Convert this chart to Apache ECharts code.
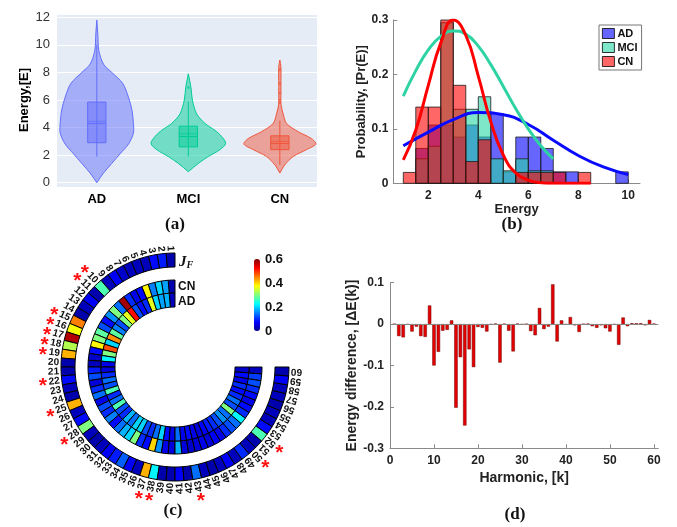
<!DOCTYPE html>
<html><head><meta charset="utf-8">
<script src="https://cdn.jsdelivr.net/npm/echarts@6/dist/echarts.min.js"></script>
<style>html,body{margin:0;padding:0;background:#fff}#c{width:677px;height:527px}</style>
</head><body><div id="c"></div>
<script>
// ---------- Panel (a): violins ----------
const violinGroups = ['AD', 'MCI', 'CN'];
const adViolinE  = [11.8, 10.8, 9.6, 8.6, 8.0, 7.2, 6.2, 5.3, 4.3, 3.6, 2.8, 2.1, 1.4, 0.7, 0.0];
const adViolinW  = [0, 0.011, 0.022, 0.073, 0.164, 0.284, 0.346, 0.383, 0.40, 0.40, 0.346, 0.255, 0.164, 0.073, 0];
const mciViolinE = [7.9, 6.9, 6.0, 5.0, 4.3, 3.8, 3.35, 2.85, 2.4, 1.9, 1.4, 0.8];
const mciViolinW = [0, 0.029, 0.044, 0.091, 0.182, 0.291, 0.364, 0.408, 0.346, 0.219, 0.109, 0];
const cnViolinE  = [8.9, 8.4, 7.4, 6.4, 5.7, 5.0, 4.3, 3.7, 3.2, 2.8, 2.4, 1.9, 1.3, 0.7];
const cnViolinW  = [0, 0.012, 0.012, 0.012, 0.012, 0.036, 0.073, 0.2, 0.346, 0.393, 0.291, 0.146, 0.055, 0];
const boxQ1 = [2.9, 2.6, 2.4];
const boxQ3 = [5.85, 4.1, 3.4];
const boxMedian = [4.3, 3.35, 2.85];
const boxMean = [4.45, 3.55, 3.0];
const whiskerLow = [1.9, 1.9, 1.3];
const whiskerHigh = [10.0, 5.9, 4.5];
const adOutliers = [];
const mciOutliers = [6.9];
const cnOutliers = [5.8, 6.0, 6.5, 7.2, 8.2];

// ---------- Panel (b): histograms + fits ----------
const histBinStart = [1.0, 1.5, 2.0, 2.5, 3.0, 3.5, 4.0, 4.5, 5.0, 5.5, 6.0, 6.5, 7.0, 7.5, 8.0, 8.5, 9.0, 9.5];
const adHist  = [0, 0.064, 0.107, 0.107, 0.085, 0.107, 0.085, 0.128, 0.021, 0.085, 0.085, 0.064, 0.021, 0.021, 0, 0, 0, 0.021];
const mciHist = [0, 0.045, 0.068, 0.295, 0.136, 0.136, 0.159, 0.045, 0.023, 0.045, 0.023, 0.023, 0, 0, 0, 0, 0, 0];
const cnHist  = [0.02, 0.14, 0.14, 0.30, 0.18, 0.04, 0.08, 0, 0, 0.02, 0.02, 0.02, 0.02, 0, 0.02, 0, 0, 0];
const adFitE  = [1, 2, 3, 4, 5, 6, 7, 8, 9, 10];
const adFitP  = [0.069, 0.094, 0.117, 0.13, 0.126, 0.108, 0.079, 0.051, 0.03, 0.016];
const mciFitE = [1, 1.5, 2, 2.5, 3, 3.5, 4, 4.5, 5, 5.5, 6, 6.5, 7];
const mciFitP = [0.16, 0.207, 0.245, 0.27, 0.28, 0.274, 0.252, 0.218, 0.178, 0.137, 0.1, 0.069, 0.045];
const cnFitE  = [1, 1.5, 2, 2.5, 3, 3.5, 4, 4.5, 5, 5.5, 6, 6.5, 7, 7.5, 8, 8.5];
const cnFitP  = [0.043, 0.098, 0.18, 0.258, 0.30, 0.272, 0.197, 0.113, 0.052, 0.019, 0.006, 0.001, 0, 0, 0, 0];
const energyTicksB = [2, 4, 6, 8, 10];

// ---------- Panel (c): circular heat map ----------
const jfEnergy = [0.02,0.09,0.08,0.03,0.03,0.03,0.04,0.07,0.03,0.27, 0.02,0.07,0.03,0.02,0.45,0.37,0.57,0.33,0.42,0.02,
                  0.02,0.08,0.03,0.02,0.42,0.03,0.08,0.3,0.03,0.02, 0.03,0.07,0.09,0.13,0.07,0.03,0.42,0.22,0.02,0.02,
                  0.07,0.02,0.14,0.03,0.02,0.03,0.07,0.03,0.1,0.03, 0.02,0.27,0.08,0.03,0.03,0.02,0.03,0.03,0.07,0.02];
const cnEnergy = [0.02,0.17,0.2,0.15,0.38,0.08,0.06,0.1,0.58,0.14, 0.3,0.16,0.08,0.12,0.28,0.3,0.38,0.08,0.04,0.03,
                  0.09,0.12,0.05,0.1,0.14,0.06,0.12,0.1,0.15,0.08, 0.14,0.18,0.2,0.3,0.1,0.08,0.4,0.16,0.06,0.05,
                  0.18,0.05,0.04,0.05,0.06,0.05,0.07,0.06,0.1,0.12, 0.14,0.22,0.1,0.08,0.06,0.08,0.1,0.12,0.11,0.03];
const adEnergy = [0.03,0.18,0.17,0.2,0.36,0.1,0.08,0.12,0.52,0.36, 0.3,0.12,0.15,0.28,0.44,0.2,0.48,0.3,0.22,0.06,
                  0.05,0.1,0.14,0.12,0.27,0.1,0.14,0.27,0.12,0.1, 0.18,0.14,0.2,0.2,0.12,0.1,0.14,0.2,0.08,0.06,
                  0.14,0.06,0.08,0.06,0.05,0.07,0.09,0.1,0.12,0.16, 0.14,0.3,0.12,0.14,0.1,0.08,0.1,0.06,0.08,0.04];
const significantHarmonics = [10, 11, 15, 16, 17, 18, 19, 22, 25, 28, 37, 38, 43, 50, 52];
const colorbarTicks = [0, 0.2, 0.4, 0.6];

// ---------- Panel (d): energy difference ----------
const deltaE = [0, -0.029, -0.032, -0.001, -0.018, -0.006, -0.029, -0.031, 0.045, -0.10,
                -0.067, -0.016, -0.014, 0.009, -0.202, -0.08, -0.245, -0.061, -0.104, -0.007,
                -0.009, -0.018, -0.001, 0.001, -0.093, 0, -0.016, -0.066, 0.001, -0.001,
                0, -0.017, -0.027, 0.039, -0.012, -0.006, 0.096, -0.042, 0.009, -0.001,
                0.017, -0.003, -0.019, 0, 0.001, -0.005, -0.009, -0.003, -0.01, -0.018,
                -0.001, -0.05, 0.016, -0.005, 0.002, 0.002, 0.002, -0.003, 0.01, 0.001];

const harmonics = deltaE.map((_, i) => i + 1);

// ---------- styles ----------
const plotlyColors = ['#636efa', '#00cc96', '#EF553B'];
const plotlyFill = ['rgba(99,110,250,0.5)', 'rgba(0,204,150,0.5)', 'rgba(239,85,59,0.5)'];
const jet = ['#00008f', '#0000ff', '#0080ff', '#00ffff', '#80ff80', '#ffff00', '#ff8000', '#ff0000', '#800000'];
const FONT = 'Liberation Sans';
const axisGray = '#8a8a8a';
const tickText = '#222';

const violinE = [adViolinE, mciViolinE, cnViolinE];
const violinW = [adViolinW, mciViolinW, cnViolinW];
const outliers = [adOutliers, mciOutliers, cnOutliers];

function violinRender(params, api) {
  const g = api.value(0);
  const E = violinE[g], W = violinW[g];
  const pts = [];
  for (let i = 0; i < E.length; i++) pts.push(api.coord([g + W[i], E[i]]));
  for (let i = E.length - 1; i >= 0; i--) pts.push(api.coord([g - W[i], E[i]]));
  const col = plotlyColors[g];
  const bw = 0.1;
  const b1 = api.coord([g - bw, boxQ3[g]]), b2 = api.coord([g + bw, boxQ1[g]]);
  const wl = api.coord([g, whiskerLow[g]]), wh = api.coord([g, whiskerHigh[g]]);
  const m1 = api.coord([g - bw, boxMedian[g]]), m2 = api.coord([g + bw, boxMedian[g]]);
  const n1 = api.coord([g - bw, boxMean[g]]), n2 = api.coord([g + bw, boxMean[g]]);
  const children = [
    {type: 'polygon', shape: {points: pts, smooth: 0.3}, style: {fill: plotlyFill[g], stroke: col, lineWidth: 1}},
    {type: 'line', shape: {x1: wl[0], y1: wl[1], x2: wh[0], y2: wh[1]}, style: {stroke: col, lineWidth: 1}},
    {type: 'rect', shape: {x: b1[0], y: b1[1], width: b2[0] - b1[0], height: b2[1] - b1[1]}, style: {fill: plotlyFill[g], stroke: col, lineWidth: 1}},
    {type: 'line', shape: {x1: m1[0], y1: m1[1], x2: m2[0], y2: m2[1]}, style: {stroke: col, lineWidth: 1}},
    {type: 'line', shape: {x1: n1[0], y1: n1[1], x2: n2[0], y2: n2[1]}, style: {stroke: col, lineWidth: 1, opacity: 0.7}}
  ];
  outliers[g].forEach(v => {
    const p = api.coord([g, v]);
    children.push({type: 'circle', shape: {cx: p[0], cy: p[1], r: 1.3}, style: {fill: col, opacity: 0.7}});
  });
  return {type: 'group', children};
}

function histRender(color) {
  return function (params, api) {
    const x0 = api.value(0), h = api.value(1);
    if (!(h > 0)) return null;
    const p0 = api.coord([x0, 0]), p1 = api.coord([x0 + 0.5, h]);
    return {type: 'rect', shape: {x: p0[0], y: p1[1], width: p1[0] - p0[0], height: p0[1] - p1[1]},
            style: {fill: color, stroke: '#1a1a1a', lineWidth: 0.8}};
  };
}

function ringRender(r0, r1) {
  return function (params, api) {
    const k = api.value(0);
    const cs = params.coordSys;
    const cx = cs.cx, cy = cs.cy;
    const a = api.coord([r1, k - 1]);
    const b = api.coord([r1, k]);
    const c = api.coord([r0, k - 1]);
    const R1 = Math.hypot(a[0] - cx, a[1] - cy);
    const R0 = Math.hypot(c[0] - cx, c[1] - cy);
    let a0 = Math.atan2(a[1] - cy, a[0] - cx);
    let a1 = Math.atan2(b[1] - cy, b[0] - cx);
    while (a0 < a1) a0 += Math.PI * 2;
    return {type: 'sector', shape: {cx, cy, r0: R0, r: R1, startAngle: a1, endAngle: a0, clockwise: true},
            style: {fill: api.visual('color'), stroke: '#000', lineWidth: 1}};
  };
}

function labelRender(params, api) {
  const k = api.value(0);
  const cs = params.coordSys;
  const p = api.coord([116, k - 0.5]);
  const th = Math.atan2(cs.cy - p[1], p[0] - cs.cx);
  return {type: 'text', x: p[0], y: p[1], rotation: th - Math.PI,
          style: {text: String(k), align: 'right', verticalAlign: 'middle', fontSize: 10, fontWeight: 'bold', fontFamily: FONT, fill: '#111'}};
}

function starRender(params, api) {
  const k = api.value(0);
  const p = api.coord([133, k - 0.5]);
  return {type: 'text', x: p[0], y: p[1] + 4,
          style: {text: '*', align: 'center', verticalAlign: 'middle', fontSize: 21, fontWeight: 'bold', fontFamily: FONT, fill: '#ff1010'}};
}

const option = {
  animation: false,
  backgroundColor: '#fff',
  textStyle: {fontFamily: FONT},
  grid: [
    {left: 57, top: 17.3, width: 260, height: 165.4},
    {left: 393.3, top: 20, width: 246.7, height: 163.3},
    {left: 390, top: 282.7, width: 268.3, height: 165.6},
    {left: 254, top: 259, width: 6, height: 72}
  ],
  polar: {center: [175, 367], radius: [0, 114]},
  angleAxis: {type: 'value', min: 0, max: 80, startAngle: 90, clockwise: false, show: false},
  radiusAxis: {type: 'value', min: 0, max: 114, show: false},
  xAxis: [
    {gridIndex: 0, type: 'value', min: -0.435, max: 2.406,
     axisLine: {show: false}, axisTick: {show: false}, splitLine: {show: false},
     axisLabel: {customValues: [0, 1, 2], formatter: v => violinGroups[Math.round(v)], fontWeight: 'bold', fontSize: 13, color: '#000', margin: 10}},
    {gridIndex: 1, type: 'value', min: 0.6, max: 10.47, splitLine: {show: false},
     axisLine: {onZero: false, lineStyle: {color: axisGray}},
     axisTick: {inside: true, length: 4, customValues: energyTicksB, lineStyle: {color: axisGray}},
     axisLabel: {customValues: energyTicksB, fontWeight: 'bold', fontSize: 12, color: tickText, margin: 6},
     name: 'Energy', nameLocation: 'middle', nameGap: 20, nameTextStyle: {fontWeight: 'bold', fontSize: 13, color: '#222'}},
    {gridIndex: 2, type: 'value', min: 0, max: 61, interval: 10, splitLine: {show: false},
     axisLine: {onZero: false, lineStyle: {color: axisGray}},
     axisTick: {inside: true, length: 4, lineStyle: {color: axisGray}},
     axisLabel: {fontWeight: 'bold', fontSize: 12, color: tickText, margin: 6},
     name: 'Harmonic, [k]', nameLocation: 'middle', nameGap: 23, nameTextStyle: {fontWeight: 'bold', fontSize: 14, color: '#222'}},
    {gridIndex: 3, type: 'value', min: 0, max: 1, show: false}
  ],
  yAxis: [
    {gridIndex: 0, type: 'value', min: 0, max: 12, interval: 2,
     axisLine: {show: false}, axisTick: {show: false},
     splitLine: {lineStyle: {color: '#fff', width: 1}},
     axisLabel: {fontSize: 13, color: '#333', margin: 7},
     name: 'Energy,[E]', nameLocation: 'middle', nameGap: 26, nameTextStyle: {fontWeight: 'bold', fontSize: 13, color: '#000'}},
    {gridIndex: 1, type: 'value', min: 0, max: 0.3, interval: 0.1, splitLine: {show: false},
     axisLine: {show: true, lineStyle: {color: axisGray}},
     axisTick: {show: true, inside: true, length: 4, lineStyle: {color: axisGray}},
     axisLabel: {fontWeight: 'bold', fontSize: 12, color: tickText, margin: 5},
     name: 'Probability, [Pr(E)]', nameLocation: 'middle', nameGap: 23, nameTextStyle: {fontWeight: 'bold', fontSize: 13, color: '#222'}},
    {gridIndex: 2, type: 'value', min: -0.3, max: 0.1, interval: 0.1, splitLine: {show: false},
     axisLine: {show: true, lineStyle: {color: axisGray}},
     axisTick: {show: true, inside: true, length: 4, lineStyle: {color: axisGray}},
     axisLabel: {fontWeight: 'bold', fontSize: 12, color: tickText, margin: 6},
     name: 'Energy difference, [ΔE(k)]', nameLocation: 'middle', nameGap: 31, nameTextStyle: {fontWeight: 'bold', fontSize: 14, color: '#222'}},
    {gridIndex: 3, type: 'value', min: 0, max: 0.6, interval: 0.2, position: 'right',
     axisLine: {show: false}, axisTick: {show: false}, splitLine: {show: false},
     axisLabel: {customValues: colorbarTicks, fontWeight: 'bold', fontSize: 13, color: '#111', margin: 5}}
  ],
  visualMap: [{
    type: 'continuous', min: 0, max: 0.6, dimension: 1, seriesIndex: [7, 8, 9],
    inRange: {color: jet}, calculable: false, orient: 'vertical',
    left: 249, top: 254, itemWidth: 6, itemHeight: 72, padding: 5,
    textStyle: {color: 'rgba(0,0,0,0)', fontSize: 1}
  }],
  legend: {
    data: ['AD', 'MCI', 'CN'], orient: 'vertical', left: 599, top: 25, icon: 'rect',
    itemWidth: 12, itemHeight: 10, itemGap: 3, padding: [3, 4, 3, 3],
    borderColor: '#777', borderWidth: 1,
    itemStyle: {borderColor: '#000', borderWidth: 0.8},
    textStyle: {fontWeight: 'bold', fontSize: 11, color: '#111', padding: [0, 0, 0, -2]}
  },
  graphic: [
    {type: 'rect', z: -10, shape: {x: 57, y: 15, width: 260, height: 172}, style: {fill: '#e5ecf6'}},
    {type: 'text', x: 175, y: 225, style: {text: '(a)', align: 'center', verticalAlign: 'middle', font: 'bold 17px "Liberation Serif"', fill: '#111'}},
    {type: 'text', x: 512, y: 225, style: {text: '(b)', align: 'center', verticalAlign: 'middle', font: 'bold 17px "Liberation Serif"', fill: '#111'}},
    {type: 'text', x: 173, y: 511, style: {text: '(c)', align: 'center', verticalAlign: 'middle', font: 'bold 17px "Liberation Serif"', fill: '#111'}},
    {type: 'text', x: 515, y: 515, style: {text: '(d)', align: 'center', verticalAlign: 'middle', font: 'bold 17px "Liberation Serif"', fill: '#111'}},
    {type: 'text', x: 179, y: 262, style: {text: '{j|J}{f|F}', align: 'left', verticalAlign: 'middle',
      rich: {j: {font: 'italic bold 15px "Liberation Serif"', fill: '#111'}, f: {font: 'italic bold 10px "Liberation Serif"', fill: '#111', verticalAlign: 'bottom', padding: [6, 0, 0, 0]}}}},
    {type: 'text', x: 178, y: 287, style: {text: 'CN', align: 'left', verticalAlign: 'middle', font: 'bold 12px "Liberation Sans"', fill: '#111'}},
    {type: 'text', x: 178, y: 302, style: {text: 'AD', align: 'left', verticalAlign: 'middle', font: 'bold 12px "Liberation Sans"', fill: '#111'}}
  ],
  series: [
    {type: 'custom', xAxisIndex: 0, yAxisIndex: 0, renderItem: violinRender, data: violinGroups.map((_, i) => [i]), silent: true},
    {name: 'AD', type: 'custom', xAxisIndex: 1, yAxisIndex: 1, renderItem: histRender('rgba(0,0,255,0.6)'),
     itemStyle: {color: 'rgba(0,0,255,0.6)'}, data: histBinStart.map((x, i) => [x, adHist[i]])},
    {name: 'MCI', type: 'custom', xAxisIndex: 1, yAxisIndex: 1, renderItem: histRender('rgba(40,215,165,0.6)'),
     itemStyle: {color: 'rgba(40,215,165,0.6)'}, data: histBinStart.map((x, i) => [x, mciHist[i]])},
    {name: 'CN', type: 'custom', xAxisIndex: 1, yAxisIndex: 1, renderItem: histRender('rgba(255,0,0,0.6)'),
     itemStyle: {color: 'rgba(255,0,0,0.6)'}, data: histBinStart.map((x, i) => [x, cnHist[i]])},
    {name: 'AD fit', type: 'line', xAxisIndex: 1, yAxisIndex: 1, smooth: 0.5, symbol: 'none',
     lineStyle: {color: '#0a0aff', width: 3}, data: adFitE.map((x, i) => [x, adFitP[i]])},
    {name: 'MCI fit', type: 'line', xAxisIndex: 1, yAxisIndex: 1, smooth: 0.5, symbol: 'none',
     lineStyle: {color: '#2ed3a3', width: 3}, data: mciFitE.map((x, i) => [x, mciFitP[i]])},
    {name: 'CN fit', type: 'line', xAxisIndex: 1, yAxisIndex: 1, smooth: 0.5, symbol: 'none',
     lineStyle: {color: '#ff0000', width: 3}, data: cnFitE.map((x, i) => [x, cnFitP[i]])},
    {type: 'custom', coordinateSystem: 'polar', renderItem: ringRender(100, 114), encode: {angle: 0, radius: 1},
     data: harmonics.map((k, i) => [k, jfEnergy[i]])},
    {type: 'custom', coordinateSystem: 'polar', renderItem: ringRender(74, 87), encode: {angle: 0, radius: 1},
     data: harmonics.map((k, i) => [k, cnEnergy[i]])},
    {type: 'custom', coordinateSystem: 'polar', renderItem: ringRender(60, 74), encode: {angle: 0, radius: 1},
     data: harmonics.map((k, i) => [k, adEnergy[i]])},
    {type: 'custom', coordinateSystem: 'polar', renderItem: labelRender, encode: {angle: 0}, data: harmonics.map(k => [k])},
    {type: 'custom', coordinateSystem: 'polar', renderItem: starRender, encode: {angle: 0}, data: significantHarmonics.map(k => [k])},
    {type: 'bar', xAxisIndex: 2, yAxisIndex: 2, barWidth: 3.4,
     itemStyle: {color: '#e50000', borderColor: '#700000', borderWidth: 0.5},
     data: harmonics.map((k, i) => [k, deltaE[i]]),
     markLine: {silent: true, symbol: 'none', label: {show: false}, lineStyle: {color: '#888', width: 1, type: 'solid'}, data: [{yAxis: 0}]}},
    {type: 'line', xAxisIndex: 3, yAxisIndex: 3, data: [], silent: true}
  ]
};

const chart = echarts.init(document.getElementById('c'), null, {renderer: 'canvas'});
chart.setOption(option);
</script></body></html>
